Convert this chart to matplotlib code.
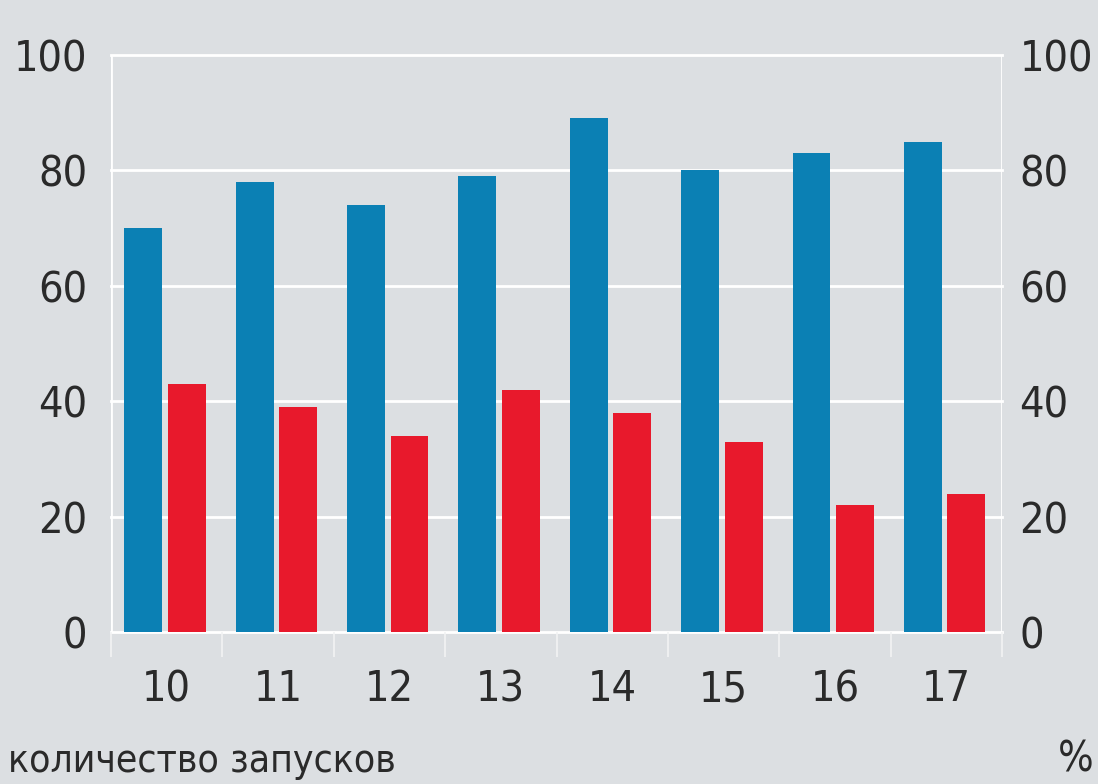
import matplotlib
matplotlib.use("Agg")
import matplotlib.pyplot as plt
from matplotlib import font_manager
import numpy as np

categories = ["10", "11", "12", "13", "14", "15", "16", "17"]
blue_values = [70, 78, 74, 79, 89, 80, 83, 85]
red_values = [43, 39, 34, 42, 38, 33, 22, 24]
y_ticks = [0, 20, 40, 60, 80, 100]

BG = "#dcdfe2"
BLUE = "#0b80b4"
RED = "#e8192c"
TXT = "#2a2a2a"

# pick an upright, regular-weight narrow font if one is installed
fonts = font_manager.fontManager.ttflist

def is_narrow(f):
    return ("Narrow" in f.name or "Condensed" in f.name or "Condensed" in f.fname
            or "Narrow" in f.fname or str(f.stretch) in ("condensed", "semi-condensed", "75", "87")
            or f.stretch in (75, 87))

def weight_num(f):
    w = f.weight
    if isinstance(w, str):
        return font_manager.weight_dict.get(w, 400)
    return w

cands = [f for f in fonts if is_narrow(f) and f.style == "normal"
         and "Italic" not in f.fname and "Oblique" not in f.fname]
cands.sort(key=lambda f: (abs(weight_num(f) - 400), 0 if "Liberation" in f.name else 1))
chosen = cands[0].fname if cands else None

def fp(size):
    if chosen:
        return font_manager.FontProperties(fname=chosen, size=size)
    return font_manager.FontProperties(family=["Roboto", "DejaVu Sans"], size=size)

fig = plt.figure(figsize=(10.98, 7.84), dpi=100, facecolor=BG)
ax = fig.add_axes([111/1098, 1-632/784, (1002-111)/1098, (632-55)/784])
ax.set_facecolor(BG)

x = np.arange(len(categories))
w = 0.34
ax.bar(x - 0.21, blue_values, width=w, color=BLUE, zorder=3)
ax.bar(x + 0.18, red_values, width=w, color=RED, zorder=3)

ax.set_xlim(-0.5, len(categories) - 0.5)
ax.set_ylim(0, 100)

for v in y_ticks:
    ax.axhline(v, color="white", lw=2, zorder=1, clip_on=False)
ax.axvline(-0.5, color="white", lw=2, zorder=1)
ax.axvline(len(categories) - 0.5, color="white", lw=2, zorder=1)

for s in ax.spines.values():
    s.set_visible(False)

LS = 31
ax.set_xticks(x)
ax.set_xticklabels(categories, color=TXT, fontproperties=fp(LS))
ax.set_xticks(np.arange(-0.5, len(categories), 1.0), minor=True)
ax.tick_params(axis="x", which="major", length=0, pad=26)
ax.tick_params(axis="x", which="minor", length=18, width=1.2, color="#f2f3f4")

ax.set_yticks(y_ticks)
ax.tick_params(axis="y", which="major", length=0, left=True, right=True, labelleft=True, labelright=True)
ax.tick_params(axis="y", which="major", pad=17)
ax.set_yticklabels([str(v) for v in y_ticks], color=TXT, fontproperties=fp(LS))
for t in ax.yaxis.get_major_ticks():
    t.label1.set_fontproperties(fp(LS))
    t.label2.set_fontproperties(fp(LS))
    t.label2.set_color(TXT)
    t.set_pad(17)
# right-side labels a little closer to the plot
import matplotlib.transforms as mtrans
for t in ax.yaxis.get_major_ticks():
    t.label2.set_transform(t.label2.get_transform() + mtrans.ScaledTranslation(-6/100, 0, fig.dpi_scale_trans))

fig.text(8/1098, 1-772/784, "количество запусков", color=TXT, fontproperties=fp(28), ha="left", va="baseline")
fig.text(1094/1098, 1-772/784, "%", color=TXT, fontproperties=fp(30), ha="right", va="baseline")

fig.savefig("out.png", dpi=100, facecolor=BG)
